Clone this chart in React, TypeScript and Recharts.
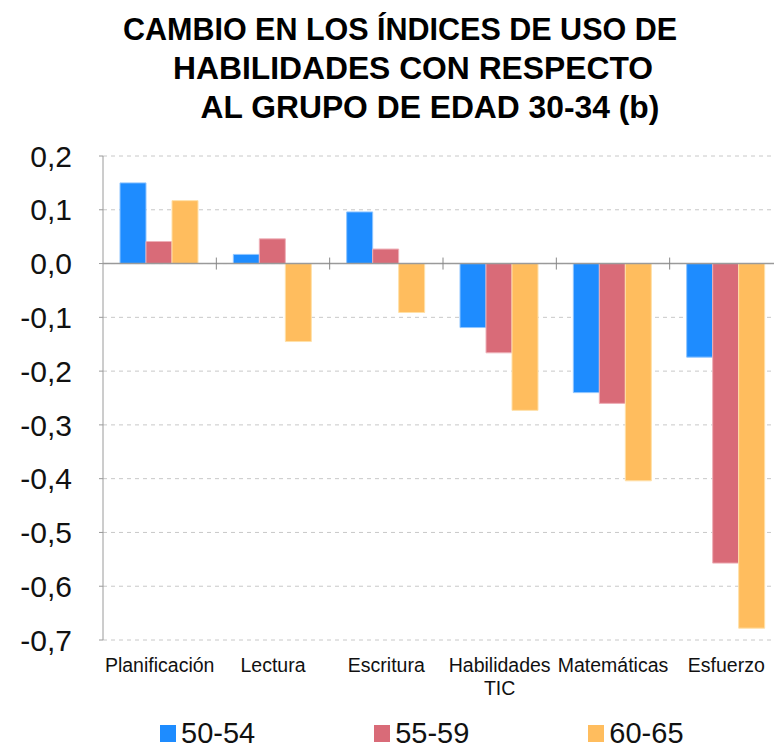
import React from "react";
import {
  BarChart,
  Bar,
  XAxis,
  YAxis,
  CartesianGrid,
  Legend,
  ReferenceLine,
} from "recharts";

const categories = [
  "Planificación",
  "Lectura",
  "Escritura",
  "Habilidades\nTIC",
  "Matemáticas",
  "Esfuerzo",
];
const age5054 = [0.15, 0.017, 0.096, -0.119, -0.24, -0.174];
const age5559 = [0.041, 0.046, 0.027, -0.166, -0.26, -0.557];
const age6065 = [0.117, -0.145, -0.091, -0.273, -0.404, -0.678];
const yTicks = [0.2, 0.1, 0, -0.1, -0.2, -0.3, -0.4, -0.5, -0.6, -0.7];
const titleLines = [
  "CAMBIO EN LOS ÍNDICES DE USO DE",
  "HABILIDADES CON RESPECTO",
  "AL GRUPO DE EDAD 30-34 (b)",
];

const data = categories.map((name, i) => ({
  name,
  a: age5054[i],
  b: age5559[i],
  c: age6065[i],
}));

const FONT = '"Liberation Sans", Arial, Helvetica, sans-serif';

const fmt = (v: number) => v.toFixed(1).replace(".", ",");

const XTick = (props: any) => {
  const { x, y, payload } = props;
  const lines = String(payload.value).split("\n");
  return (
    <g>
      {lines.map((l, i) => (
        <text
          key={i}
          x={x}
          y={y + 32 + i * 23}
          textAnchor="middle"
          fontSize={19.5}
          fontFamily={FONT}
          fill="#111"
        >
          {l}
        </text>
      ))}
    </g>
  );
};

const ZeroLine = (props: any) => {
  const { x1, x2, y1 } = props;
  const step = (x2 - x1) / categories.length;
  return (
    <g>
      <line x1={x1} x2={x2} y1={y1} y2={y1} stroke="#9a9a9a" strokeWidth={1.5} />
      {categories.slice(1).map((_, i) => (
        <line
          key={i}
          x1={x1 + step * (i + 1)}
          x2={x1 + step * (i + 1)}
          y1={y1 - 6}
          y2={y1 + 6}
          stroke="#888"
          strokeWidth={1}
        />
      ))}
    </g>
  );
};

const LegendBox = (props: any) => {
  const items = props.payload || [];
  return (
    <div style={{ display: "flex", marginLeft: 160, gap: 119, height: 40, alignItems: "center" }}>
      {items.map((it: any) => (
        <div key={it.value} style={{ display: "flex", alignItems: "center" }}>
          <span
            style={{
              display: "inline-block",
              width: 16,
              height: 17,
              background: it.color,
              marginRight: 5,
            }}
          />
          <span style={{ fontSize: 29, fontFamily: FONT, color: "#111", lineHeight: "29px" }}>
            {it.value}
          </span>
        </div>
      ))}
    </div>
  );
};

export default function App() {
  return (
    <div style={{ position: "absolute", left: 0, top: 0, width: 774, height: 753, overflow: "hidden", background: "#fff" }}>
      <svg width={774} height={140} style={{ position: "absolute", left: 0, top: 0 }}>
        {titleLines.map((t, i) => (
          <text
            key={i}
            x={[400, 413, 430][i]}
            y={40 + i * 39}
            textAnchor="middle"
            fontSize={i === 0 ? 30.5 : 31.8}
            fontWeight="bold"
            fontFamily={FONT}
            fill="#000"
          >
            {t}
          </text>
        ))}
      </svg>
      <div style={{ position: "absolute", left: 0, top: 0 }}>
        <BarChart
          width={790}
          height={753}
          data={data}
          margin={{ top: 156, right: 7, left: 10, bottom: 0 }}
          barCategoryGap="15%"
          barGap={0}
        >
          <CartesianGrid vertical={false} stroke="#c8c8c8" strokeDasharray="4 4" />
          <XAxis
            dataKey="name"
            axisLine={false}
            tickLine={false}
            tickSize={0}
            tickMargin={0}
            height={73}
            interval={0}
            tick={<XTick />}
          />
          <YAxis
            width={93}
            domain={[-0.7, 0.2]}
            ticks={yTicks}
            interval={0}
            tickFormatter={fmt}
            axisLine={{ stroke: "#9a9a9a" }}
            tickLine={{ stroke: "#9a9a9a" }}
            tickSize={4}
            tickMargin={27}
            tick={{ fontSize: 30, fontFamily: FONT, fill: "#111" }}
          />
          <Legend verticalAlign="bottom" content={<LegendBox />} wrapperStyle={{ left: 0, width: 774, bottom: 0 }} />
          <Bar dataKey="a" name="50-54" fill="#1e8cff" stroke="#8fc5ff" strokeWidth={1} isAnimationActive={false} />
          <Bar dataKey="b" name="55-59" fill="#d96b78" stroke="#eeb0b8" strokeWidth={1} isAnimationActive={false} />
          <Bar dataKey="c" name="60-65" fill="#ffbd5e" stroke="#ffe0a8" strokeWidth={1} isAnimationActive={false} />
          <ReferenceLine y={0} shape={<ZeroLine />} />
        </BarChart>
      </div>
    </div>
  );
}
